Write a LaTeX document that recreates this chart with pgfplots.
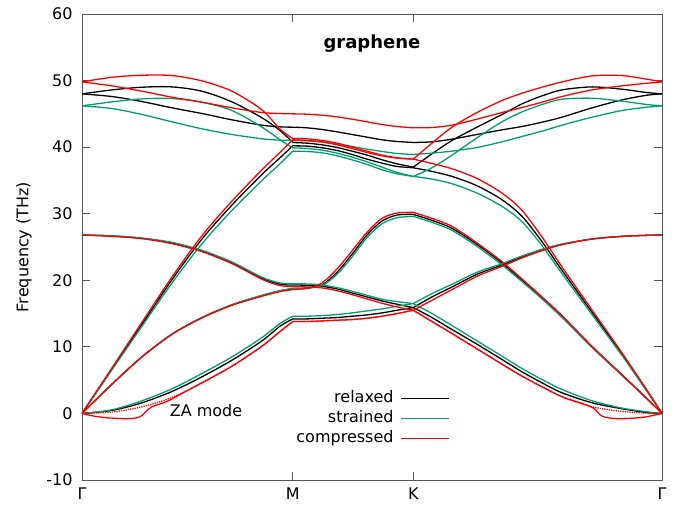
\documentclass[border=0pt]{standalone}
\usepackage{fontspec}
\setmainfont{DejaVu Sans}
\usepackage{pgfplots}
\usepackage{pgfplotstable}
\pgfplotsset{compat=1.18}
\definecolor{cgreen}{HTML}{009E73}
\definecolor{cred}{HTML}{FF0000}
\definecolor{frame}{HTML}{555555}
\pgfplotsset{legend image code/.code={\draw[#1] (0pt,0pt) -- (48pt,0pt);}}

% relaxed
\pgfplotstableread{
X ZA TA ZO LA TO LO
0 0 0 26.8 0 48.0 48.0
30 0.45 4.4 26.65 6.7 47.6 48.6
60 1.6 8.5 26.3 13.4 46.85 49.0
90 3.3 11.9 25.6 20.1 45.9 49.05
120 5.5 14.4 24.4 26.2 45.05 48.4
150 8.0 16.3 22.6 31.3 44.1 46.8
180 10.9 17.7 20.3 35.9 43.3 44.4
198 13.1 18.4 19.4 38.4 43.05 42.5
210.7 14.2 18.7 19.3 40.2 43.0 40.7
nan nan nan nan nan nan nan
210.7 14.2 18.7 19.3 40.2 43.0 40.7
225 14.2 18.8 19.25 40.15 42.9 40.6
240 14.3 19.3 19.1 39.9 42.65 40.35
255 14.4 21.2 18.7 39.5 42.3 39.95
270 14.6 23.9 18.1 38.9 41.9 39.4
285 14.8 26.8 17.5 38.2 41.5 38.8
300 15.1 28.9 16.9 37.6 41.1 38.1
315 15.5 29.8 16.4 37.1 40.85 37.5
331.3 15.9 29.9 15.9 36.9 40.7 37.0
nan nan nan nan nan nan nan
331.3 15.9 29.9 15.9 36.9 40.7 37.0
350 14.4 29.0 17.5 36.35 40.8 39.0
370 12.6 27.8 19.0 35.6 41.2 41.0
395 10.4 25.4 20.9 34.2 41.9 43.0
420 8.1 22.6 22.3 32.1 42.6 44.9
440 6.25 20.0 23.55 29.6 43.1 46.5
460 4.6 17.4 24.6 25.8 43.75 47.7
480 3.1 14.6 25.4 21.5 44.5 48.6
510 1.6 10.0 26.2 15.2 45.9 49.05
540 0.7 5.8 26.6 8.9 47.1 48.7
565 0.12 2.2 26.75 3.4 47.8 48.2
580 0 0 26.8 0 48.0 48.0
}\relaxedtab

% strained
\pgfplotstableread{
X ZA TA ZO LA TO LO
0 0 0 26.8 0 46.2 46.2
30 0.55 4.4 26.7 6.55 45.8 46.8
60 1.9 8.5 26.35 13.1 44.9 47.25
90 3.7 11.9 25.7 19.6 43.8 47.3
120 6.0 14.4 24.5 25.5 42.75 46.75
150 8.5 16.35 22.75 30.5 41.9 45.5
180 11.4 17.75 20.45 35.0 41.25 43.0
198 13.5 18.45 19.6 37.5 41.05 41.1
210.7 14.6 18.8 19.5 39.4 41.0 39.9
nan nan nan nan nan nan nan
210.7 14.6 18.8 19.5 39.4 41.0 39.9
225 14.6 18.85 19.45 39.35 40.95 39.8
240 14.7 19.2 19.3 39.15 40.75 39.55
255 14.85 20.9 18.9 38.7 40.45 39.1
270 15.1 23.5 18.35 38.1 40.1 38.5
285 15.4 26.4 17.75 37.4 39.7 37.8
300 15.7 28.5 17.15 36.6 39.35 37.0
315 16.1 29.4 16.8 36.0 39.05 36.2
331.3 16.5 29.6 16.5 35.6 38.9 35.6
nan nan nan nan nan nan nan
331.3 16.5 29.6 16.5 35.6 38.9 35.6
350 15.0 28.7 18.0 35.2 39.1 36.9
370 13.2 27.5 19.4 34.5 39.4 38.8
395 10.9 25.1 21.2 33.1 39.95 41.4
420 8.6 22.3 22.5 31.1 40.8 43.8
440 6.75 19.8 23.65 28.8 41.6 45.3
460 5.1 17.2 24.65 25.2 42.4 46.4
480 3.6 14.4 25.45 21.0 43.3 47.2
510 1.9 9.9 26.2 14.85 44.5 47.35
540 0.8 5.7 26.6 8.7 45.5 46.9
565 0.25 2.2 26.75 3.3 46.0 46.4
580 0 0 26.8 0 46.2 46.2
}\strainedtab

% compressed
\pgfplotstableread{
X ZA TA ZO LA TO LO
0 0 0 26.8 0 49.8 49.8
30 0.2 4.4 26.6 6.85 49.2 50.5
60 1.0 8.5 26.25 13.7 48.4 50.8
90 2.4 11.9 25.5 20.5 47.5 50.75
120 4.6 14.35 24.3 26.7 46.75 49.95
150 7.1 16.25 22.5 31.9 45.9 48.4
180 10.1 17.6 20.15 36.6 45.2 45.6
198 12.3 18.3 19.2 39.2 45.05 42.7
210.7 13.8 18.6 19.05 41.1 45.0 41.3
nan nan nan nan nan nan nan
210.7 13.8 18.6 19.05 41.1 45.0 41.3
225 13.8 18.8 19.0 41.0 44.95 41.25
240 13.9 19.6 18.85 40.8 44.8 41.0
255 14.0 21.7 18.45 40.35 44.55 40.6
270 14.1 24.4 17.85 39.8 44.2 40.0
285 14.3 27.2 17.2 39.2 43.8 39.4
300 14.6 29.3 16.55 38.7 43.4 38.8
315 15.0 30.1 16.0 38.35 43.1 38.4
331.3 15.5 30.2 15.5 38.2 42.9 38.2
nan nan nan nan nan nan nan
331.3 15.5 30.2 15.5 38.2 42.9 38.2
350 13.8 29.3 17.0 37.55 42.95 40.6
370 12.0 28.1 18.6 36.75 43.3 43.0
395 9.7 25.6 20.6 35.3 44.2 45.2
420 7.4 22.8 22.1 33.1 45.2 47.0
440 5.6 20.2 23.35 30.5 45.95 48.1
460 4.0 17.5 24.45 26.5 46.75 49.0
480 2.5 14.7 25.35 22.0 47.6 49.8
510 1.0 10.1 26.2 15.55 48.6 50.7
540 0.3 5.8 26.6 9.1 49.2 50.75
565 0.05 2.2 26.75 3.5 49.6 50.2
580 0 0 26.8 0 49.8 49.8
}\compressedtab

\begin{document}
\fontsize{16}{19}\selectfont
\begin{tikzpicture}
\begin{axis}[name=ax,
  scale only axis, width=580pt, height=466pt,
  xmin=0, xmax=580, ymin=-10, ymax=60,
  xtick={0,210.7,331.3,580}, xticklabels={Γ,M,K,Γ},
  ytick={-10,0,10,20,30,40,50,60},
  yticklabels={-10,0,10,20,30,40,50,60},
  tick align=inside, major tick length=8pt,
  axis line style={draw=frame, line width=0.9pt},
  every tick/.style={draw=frame, line width=0.9pt},
  yticklabel style={xshift=-4pt},
  xticklabel style={yshift=-2pt},
  every axis y label/.style={at={(axis description cs:-0.1000,0.5)}, rotate=90, anchor=center},
  ylabel={Frequency (THz)},
  unbounded coords=jump,
  every axis plot/.append style={line width=1.3pt, smooth, tension=0.5},
  legend plot pos=right,
  legend cell align=right,
  legend style={at={(axis cs:368,3.75)}, anchor=north east, draw=none, fill=none,
    inner sep=0pt, column sep=6pt,
    nodes={inner sep=1pt, text height=13pt, text depth=5pt}},
]
% relaxed
\addplot[black, forget plot] table[x=X, y=ZA] {\relaxedtab};
\addplot[black, forget plot] table[x=X, y=TA] {\relaxedtab};
\addplot[black, forget plot] table[x=X, y=ZO] {\relaxedtab};
\addplot[black, forget plot] table[x=X, y=LA] {\relaxedtab};
\addplot[black, forget plot] table[x=X, y=TO] {\relaxedtab};
\addplot[black, forget plot] table[x=X, y=LO] {\relaxedtab};
% strained
\addplot[cgreen, forget plot] table[x=X, y=ZA] {\strainedtab};
\addplot[cgreen, forget plot] table[x=X, y=TA] {\strainedtab};
\addplot[cgreen, forget plot] table[x=X, y=ZO] {\strainedtab};
\addplot[cgreen, forget plot] table[x=X, y=LA] {\strainedtab};
\addplot[cgreen, forget plot] table[x=X, y=TO] {\strainedtab};
\addplot[cgreen, forget plot] table[x=X, y=LO] {\strainedtab};
% compressed
\addplot[cred, densely dotted, forget plot] table[x=X, y=ZA] {\compressedtab};
\addplot[cred, forget plot] coordinates {
(0,0) (10,-0.35) (25,-0.65) (45,-0.8) (55,-0.65) (60,-0.3) (64,0.3) (70,1.0) (85,1.8) (100,3.0)
(120,4.6) (150,7.1) (180,10.1) (198,12.3) (210.7,13.8)
(nan,nan)
(210.7,13.8) (225,13.8) (240,13.9) (255,14.0) (270,14.1) (285,14.3) (300,14.6) (315,15.0) (331.3,15.5)
(nan,nan)
(331.3,15.5) (350,13.8) (370,12.0) (395,9.7) (420,7.4) (440,5.6) (460,4.0) (480,2.5) (500,1.5) (512,0.75)
(518,-0.2) (524,-0.6) (538,-0.8) (560,-0.6) (571,-0.3) (580,0)
};
\addplot[cred, forget plot] table[x=X, y=TA] {\compressedtab};
\addplot[cred, forget plot] table[x=X, y=ZO] {\compressedtab};
\addplot[cred, forget plot] table[x=X, y=LA] {\compressedtab};
\addplot[cred, forget plot] table[x=X, y=TO] {\compressedtab};
\addplot[cred, forget plot] table[x=X, y=LO] {\compressedtab};

\addlegendimage{black, line width=1.3pt}
\addlegendentry{relaxed}
\addlegendimage{cgreen, line width=1.3pt}
\addlegendentry{strained}
\addlegendimage{cred, line width=1.3pt}
\addlegendentry{compressed}

\node[font=\fontsize{18}{21}\selectfont\bfseries] at (axis cs:290,55.5) {graphene};
\node at (axis cs:124,0.45) {ZA mode};
\end{axis}
\pgfresetboundingbox
\path (ax.south west) ++(-82pt,-28.5pt) coordinate (bl);
\path (ax.north east) ++(20pt,14pt) coordinate (tr);
\path[use as bounding box] (bl) rectangle (tr);
\end{tikzpicture}
\end{document}
